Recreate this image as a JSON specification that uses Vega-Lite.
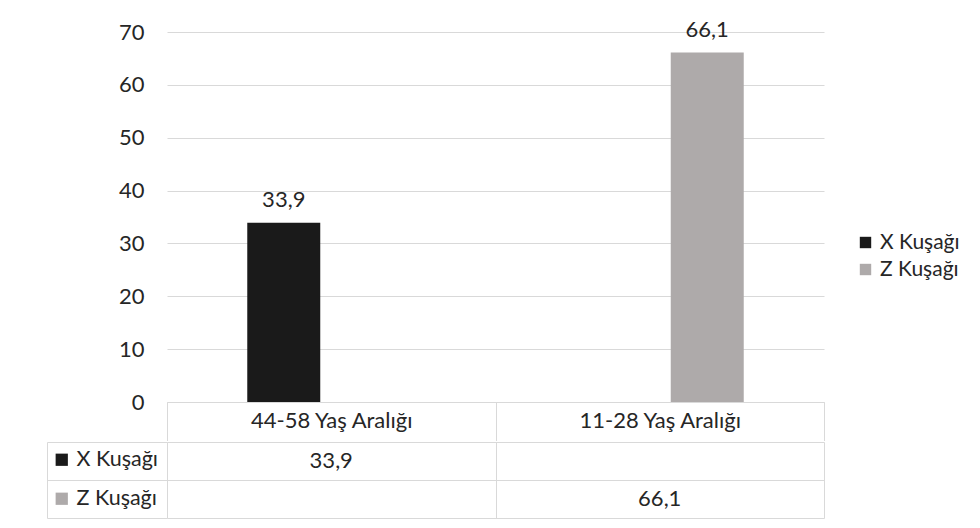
{
  "$schema": "https://vega.github.io/schema/vega-lite/v6.json",
  "background": "white",
  "padding": {"left": 46, "top": 18, "right": 0, "bottom": 0},
  "config": {
    "locale": {"number": {"decimal": ",", "thousands": ".", "grouping": [3], "currency": ["", " TL"]}},
    "font": "Lato",
    "view": {"stroke": null},
    "text": {"font": "Lato"}
  },
  "datasets": {
    "d": [
      {"kategori": "44-58 Yaş Aralığı", "kusak": "X Kuşağı", "deger": 33.9},
      {"kategori": "11-28 Yaş Aralığı", "kusak": "Z Kuşağı", "deger": 66.1}
    ]
  },
  "spacing": 0,
  "resolve": {"scale": {"color": "independent"}, "legend": {"color": "independent"}},
  "vconcat": [
    {
      "width": 657,
      "height": 370,
      "data": {"name": "d"},
      "encoding": {
        "x": {
          "field": "kategori", "type": "nominal",
          "sort": ["44-58 Yaş Aralığı", "11-28 Yaş Aralığı"],
          "scale": {"paddingInner": 0, "paddingOuter": 0},
          "axis": {
            "title": null, "labelAngle": 0, "tickBand": "extent", "tickSize": 38.5,
            "tickColor": "#d9d9d9", "domainColor": "#d9d9d9", "labelFontSize": 22,
            "labelColor": "#262626", "labelPadding": -20, "labelBaseline": "middle", "labelFont": "Lato"
          }
        }
      },
      "layer": [
        {
          "mark": {"type": "bar"},
          "encoding": {
            "xOffset": {"field": "kusak", "type": "nominal",
              "scale": {"domain": ["X Kuşağı", "Z Kuşağı"], "paddingInner": 0.2316, "paddingOuter": 0.845}},
            "y": {"field": "deger", "type": "quantitative",
              "scale": {"domain": [0, 70], "nice": false},
              "axis": {"title": null, "values": [0, 10, 20, 30, 40, 50, 60, 70], "domain": false, "ticks": false,
                "gridColor": "#d9d9d9", "labelFontSize": 22, "labelColor": "#262626", "labelPadding": 23, "labelFont": "Lato"}},
            "color": {"field": "kusak", "type": "nominal",
              "scale": {"domain": ["X Kuşağı", "Z Kuşağı"], "range": ["#1a1a1a", "#aeaaaa"]},
              "legend": {"title": null, "orient": "none", "legendX": 688, "legendY": 200, "symbolType": "square",
                "symbolSize": 130, "labelFontSize": 21, "labelColor": "#262626", "rowPadding": 5, "padding": 0, "labelFont": "Lato"}}
          }
        },
        {
          "mark": {"type": "text", "baseline": "alphabetic", "dy": -16, "fontSize": 22, "color": "#262626"},
          "encoding": {
            "xOffset": {"field": "kusak", "type": "nominal",
              "scale": {"domain": ["X Kuşağı", "Z Kuşağı"], "paddingInner": 0.2316, "paddingOuter": 0.845}},
            "y": {"field": "deger", "type": "quantitative"},
            "text": {"field": "deger", "type": "quantitative", "format": ".1f"}
          }
        }
      ]
    },
    {
      "width": 657,
      "height": 76,
      "data": {"name": "d"},
      "encoding": {
        "x": {
          "field": "kategori", "type": "nominal",
          "sort": ["44-58 Yaş Aralığı", "11-28 Yaş Aralığı"],
          "scale": {"paddingInner": 0, "paddingOuter": 0},
          "axis": {"title": null, "labels": false, "ticks": false, "domain": false, "grid": true,
            "tickBand": "extent", "gridColor": "#d9d9d9"}
        },
        "y": {
          "field": "kusak", "type": "nominal",
          "sort": ["X Kuşağı", "Z Kuşağı"],
          "scale": {"domain": ["X Kuşağı", "Z Kuşağı"], "paddingInner": 0, "paddingOuter": 0},
          "axis": {"title": null, "labels": false, "grid": true, "tickBand": "extent", "gridColor": "#d9d9d9",
            "ticks": true, "tickSize": -120, "tickColor": "#d9d9d9", "offset": 120, "domain": true, "domainColor": "#d9d9d9"}
        }
      },
      "layer": [
        {
          "mark": {"type": "text", "fontSize": 22, "color": "#262626"},
          "encoding": {
            "text": {"field": "deger", "type": "quantitative", "format": ".1f"}
          }
        },
        {
          "mark": {"type": "point", "opacity": 0, "shape": "square", "filled": true},
          "encoding": {
            "color": {"field": "kusak", "type": "nominal",
              "scale": {"domain": ["X Kuşağı", "Z Kuşağı"], "range": ["#1a1a1a", "#aeaaaa"]},
              "legend": {"title": null, "orient": "none", "legendX": -116, "legendY": 7, "symbolType": "square",
                "symbolSize": 150, "symbolOpacity": 1, "labelFontSize": 21.5, "labelColor": "#262626",
                "rowPadding": 16, "padding": 0, "labelFont": "Lato"}}
          }
        }
      ]
    }
  ]
}
